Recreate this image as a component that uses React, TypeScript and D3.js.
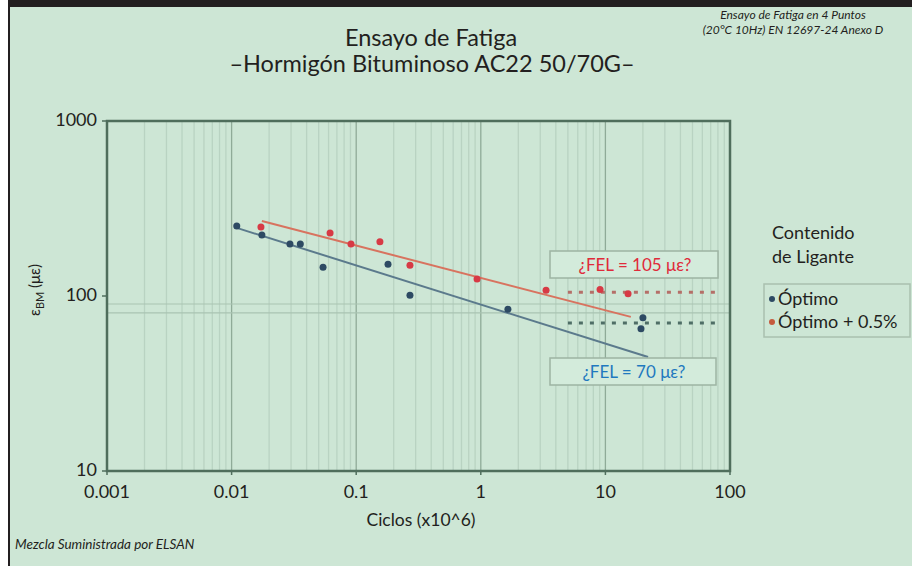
import React from "react";
import * as d3 from "d3";

const W = 912;
const H = 566;

const xTicks = [0.001, 0.01, 0.1, 1, 10, 100];
const xTickLabels = ["0.001", "0.01", "0.1", "1", "10", "100"];
const yTicks = [10, 100, 1000];
const yTickLabels = ["10", "100", "1000"];

const optimoX = [0.011, 0.0175, 0.0294, 0.0356, 0.0542, 0.18, 0.27, 1.65, 20.0, 19.3];
const optimoY = [251, 223, 198, 198, 146, 152, 101, 84, 75, 65];

const plusX = [0.0172, 0.0617, 0.0908, 0.155, 0.27, 0.933, 3.34, 9.06, 15.2];
const plusY = [248, 229, 198, 204, 150, 125, 108, 109, 103];

const optimoFitX = [0.011, 22];
const optimoFitY = [245, 44.8];
const plusFitX = [0.0175, 16];
const plusFitY = [268, 76];

const felX = [5, 80];
const felOptimo = 70;
const felPlus = 105;
const refLines = [80, 90];

const seriesNames = ["Óptimo", "Óptimo + 0.5%"];

const BG = "#cde6d5";
const AXIS = "#4f6e5c";
const BLUE = "#2d4a63";
const RED = "#d73a45";
const BLUE_LINE = "#5b7a8c";
const RED_LINE = "#d8735f";
const FONT = "Lato, 'Open Sans', sans-serif";

export default function App() {
  const x = d3.scaleLog().domain([0.001, 100]).range([107, 730]);
  const y = d3.scaleLog().domain([10, 1000]).range([471, 121]);

  const minorX: number[] = [];
  for (let e = -3; e < 2; e++) for (let k = 2; k <= 9; k++) minorX.push(k * Math.pow(10, e));

  const line = d3
    .line<[number, number]>()
    .x((d) => x(d[0]))
    .y((d) => y(d[1]));

  const optFit = optimoFitX.map((v, i) => [v, optimoFitY[i]] as [number, number]);
  const plusFit = plusFitX.map((v, i) => [v, plusFitY[i]] as [number, number]);

  return (
    <svg
      width={W}
      height={H}
      style={{ position: "absolute", left: 0, top: 0, fontFamily: FONT }}
    >
      <rect x={0} y={0} width={W} height={H} fill="#ffffff" />
      <rect x={9} y={6} width={W - 9} height={H - 6} fill={BG} />
      <rect x={8} y={0} width={W - 8} height={7} fill="#231f20" />
      <rect x={8} y={0} width={2} height={H} fill="#231f20" />

      {/* Titles */}
      <text x={431} y={46} textAnchor="middle" fontSize={23.5} fill="#231f20">
        Ensayo de Fatiga
      </text>
      <text x={432} y={72} textAnchor="middle" fontSize={23.5} fill="#231f20">
        –Hormigón Bituminoso AC22 50/70G–
      </text>
      <text x={793} y={19} textAnchor="middle" fontSize={12} fontStyle="italic" fill="#231f20">
        Ensayo de Fatiga en 4 Puntos
      </text>
      <text x={793} y={34} textAnchor="middle" fontSize={12} fontStyle="italic" fill="#231f20">
        (20°C 10Hz) EN 12697-24 Anexo D
      </text>

      {/* Minor grid */}
      {minorX.map((v, i) => (
        <line key={"mx" + i} x1={x(v)} x2={x(v)} y1={y(1000)} y2={y(10)} stroke="#b9d3c2" strokeWidth={1.3} />
      ))}
      {xTicks.slice(1, -1).map((v, i) => (
        <line key={"Mx" + i} x1={x(v)} x2={x(v)} y1={y(1000)} y2={y(10)} stroke="#8fab98" strokeWidth={1.3} />
      ))}
      {refLines.map((v, i) => (
        <line key={"ry" + i} x1={x(0.001)} x2={x(100)} y1={y(v)} y2={y(v)} stroke="#a9c3b2" strokeWidth={1.2} />
      ))}

      {/* Frame */}
      <rect
        x={x(0.001)}
        y={y(1000)}
        width={x(100) - x(0.001)}
        height={y(10) - y(1000)}
        fill="none"
        stroke={AXIS}
        strokeWidth={2.5}
      />
      {yTicks.map((v, i) => (
        <g key={"yt" + i}>
          <line x1={x(0.001) - 5} x2={x(0.001)} y1={y(v)} y2={y(v)} stroke={AXIS} strokeWidth={1.5} />
          <text x={x(0.001) - 10} y={y(v) + 5} textAnchor="end" fontSize={18} fill="#231f20">
            {yTickLabels[i]}
          </text>
        </g>
      ))}
      {xTicks.map((v, i) => (
        <g key={"xt" + i}>
          <line x1={x(v)} x2={x(v)} y1={y(10)} y2={y(10) + 4} stroke={AXIS} strokeWidth={1.5} />
          <text x={x(v)} y={y(10) + 27} textAnchor="middle" fontSize={18} fill="#231f20">
            {xTickLabels[i]}
          </text>
        </g>
      ))}

      {/* Axis titles */}
      <text x={421} y={526} textAnchor="middle" fontSize={17.5} fill="#231f20">
        Ciclos (x10^6)
      </text>
      <text transform="translate(40,290) rotate(-90)" textAnchor="middle" fontSize={15} fill="#231f20">
        ε<tspan fontSize={11} dy={4}>BM</tspan>
        <tspan dy={-4}> (με)</tspan>
      </text>
      <text x={15} y={549} fontSize={13.5} fontStyle="italic" fill="#231f20">
        Mezcla Suministrada por ELSAN
      </text>

      {/* FEL dotted lines */}
      <line
        x1={x(felX[0])}
        x2={x(felX[1])}
        y1={y(felPlus)}
        y2={y(felPlus)}
        stroke="#b56f68"
        strokeWidth={3}
        strokeDasharray="4 7"
      />
      <line
        x1={x(felX[0])}
        x2={x(felX[1])}
        y1={y(felOptimo)}
        y2={y(felOptimo)}
        stroke="#4f6e66"
        strokeWidth={3}
        strokeDasharray="4 7"
      />

      {/* Fit lines */}
      <path d={line(optFit) || ""} fill="none" stroke={BLUE_LINE} strokeWidth={2} />
      <path d={line(plusFit) || ""} fill="none" stroke={RED_LINE} strokeWidth={2} />

      {/* Points */}
      {optimoX.map((v, i) => (
        <circle key={"o" + i} cx={x(v)} cy={y(optimoY[i])} r={3.5} fill={BLUE} />
      ))}
      {plusX.map((v, i) => (
        <circle key={"p" + i} cx={x(v)} cy={y(plusY[i])} r={3.5} fill={RED} />
      ))}

      {/* Annotation boxes */}
      <rect x={550} y={251} width={168} height={27} fill="#d3ebdb" stroke="#9db4a3" strokeWidth={1.5} />
      <text x={635} y={271} textAnchor="middle" fontSize={17} fill="#e02a3a">
        ¿FEL = 105 με?
      </text>
      <rect x={550} y={358} width={166} height={27} fill="#d3ebdb" stroke="#9db4a3" strokeWidth={1.5} />
      <text x={634} y={378} textAnchor="middle" fontSize={17} fill="#1f79bf">
        ¿FEL = 70 με?
      </text>

      {/* Legend */}
      <text x={772} y={239} fontSize={18} fill="#231f20">
        Contenido
      </text>
      <text x={772} y={263} fontSize={18} fill="#231f20">
        de Ligante
      </text>
      <rect x={764} y={284} width={146} height={53} fill="none" stroke="#a9c0ae" strokeWidth={1.5} />
      {seriesNames.map((n, i) => (
        <g key={"lg" + i}>
          <circle cx={772} cy={299 + i * 23} r={3} fill={i === 0 ? BLUE : "#c55a3c"} />
          <text x={778} y={305 + i * 23} fontSize={18} fill="#231f20">
            {n}
          </text>
        </g>
      ))}
    </svg>
  );
}
